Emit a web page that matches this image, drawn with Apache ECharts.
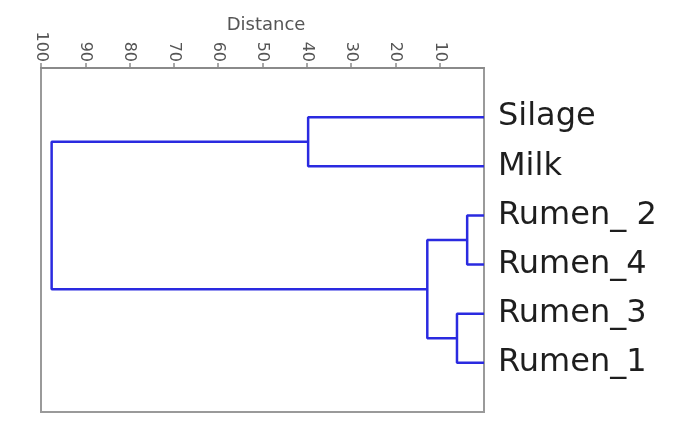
<!DOCTYPE html>
<html>
<head>
<meta charset="utf-8">
<script src="https://cdn.jsdelivr.net/npm/echarts@6/dist/echarts.min.js"></script>
<style>
  html, body { margin: 0; padding: 0; background: #fff; }
  #chart { width: 684px; height: 425px; }
</style>
</head>
<body>
<div id="chart"></div>
<script>
// Leaf names, top to bottom
const leaves = ['Silage', 'Milk', 'Rumen_ 2', 'Rumen_4', 'Rumen_3', 'Rumen_1'];
// Agglomeration steps: node ids 0..5 are leaves, 6+ are the merged clusters in order
const mergeLeft = [2, 4, 6, 0, 9];
const mergeRight = [3, 5, 7, 1, 8];
const mergeDistance = [3.8, 6.1, 12.8, 39.7, 97.6];
// Distance axis ticks
const distanceTicks = [100, 90, 80, 70, 60, 50, 40, 30, 20, 10];

// Node positions: leaves sit at distance 0, rows 1..n
const nodeX = leaves.map(() => 0);
const nodeY = leaves.map((_, i) => i + 1);
const branchSeries = [];
mergeDistance.forEach((d, k) => {
  const a = mergeLeft[k], b = mergeRight[k];
  nodeX.push(d);
  nodeY.push((nodeY[a] + nodeY[b]) / 2);
  branchSeries.push({
    type: 'line',
    data: [[nodeX[a], nodeY[a]], [d, nodeY[a]], [d, nodeY[b]], [nodeX[b], nodeY[b]]],
    symbol: 'none',
    silent: true,
    lineStyle: { color: '#2a2ae0', width: 2.5 },
    z: 3
  });
});

const chart = echarts.init(document.getElementById('chart'));
chart.setOption({
  animation: false,
  title: {
    text: 'Distance',
    left: 261,
    top: 11,
    textAlign: 'center',
    textStyle: { fontFamily: 'DejaVu Sans', fontSize: 18, fontWeight: 'normal', color: '#555' }
  },
  grid: {
    left: 41, right: 200, top: 68, bottom: 13,
    show: true, borderColor: '#9a9a9a', borderWidth: 2, backgroundColor: '#fff'
  },
  xAxis: {
    type: 'value',
    position: 'top',
    inverse: true,
    min: 0, max: 100, interval: 10,
    axisLine: { show: true, lineStyle: { color: '#8a8a8a', width: 2 } },
    axisTick: { show: true, inside: false, length: 5, lineStyle: { color: '#8a8a8a', width: 1.5 },
      customValues: distanceTicks },
    axisLabel: {
      rotate: -90,
      margin: 6,
      fontFamily: 'DejaVu Sans',
      fontSize: 16,
      color: '#555',
      customValues: distanceTicks,
      formatter: v => String(v)
    },
    splitLine: { show: false }
  },
  yAxis: {
    type: 'value',
    inverse: true,
    min: 0, max: leaves.length + 1,
    show: false
  },
  series: branchSeries.concat([{
    type: 'scatter',
    data: leaves.map((name, i) => ({ name: name, value: [0, i + 1] })),
    symbolSize: 0,
    silent: true,
    itemStyle: { opacity: 1 },
    label: {
      show: true,
      position: 'right',
      distance: 14,
      formatter: p => p.name,
      fontFamily: 'DejaVu Sans',
      fontSize: 32,
      color: '#1e1e1e',
      opacity: 1
    },
    z: 4
  }])
});
</script>
</body>
</html>
